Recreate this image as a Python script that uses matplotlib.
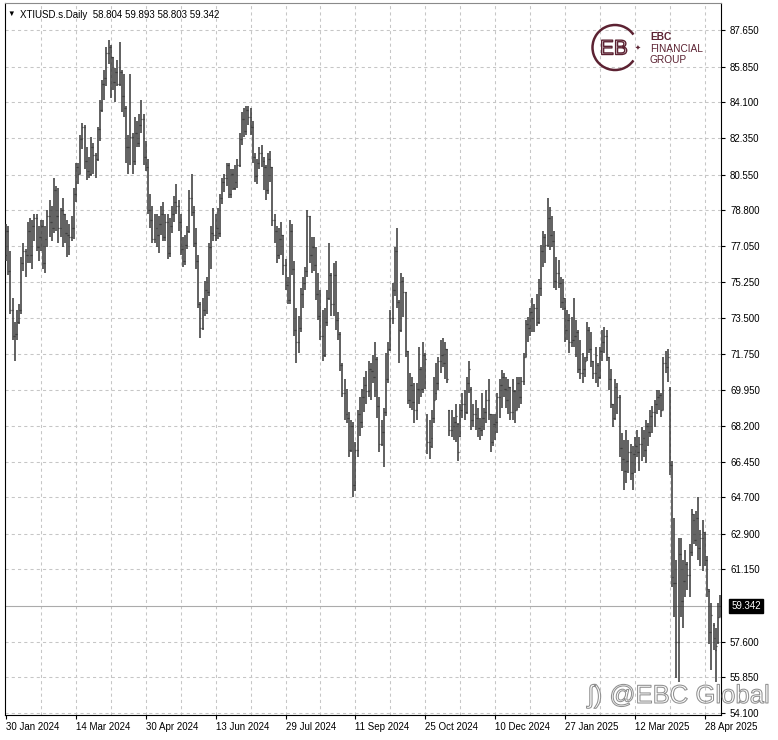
import numpy as np
import matplotlib
matplotlib.use("Agg")
from matplotlib import pyplot as plt
from matplotlib import patheffects
from matplotlib.patches import Arc

plt.rcParams['font.family'] = ['Liberation Sans', 'DejaVu Sans']

symbol = "XTIUSD.s.Daily"
bid = 59.342

# daily bars, 30 Jan 2024 .. 7 May 2025
opens = [
    76.6, 77.8, 75.8, 73.9, 72.6, 72.7, 73.3, 73.9, 76.2, 76.8,
    76.6, 77.8, 76.6, 78.0, 78.4, 77.0, 77.5, 78.0, 76.2, 77.4,
    78.5, 78.2, 77.9, 79.8, 78.5, 77.9, 78.8, 78.6, 77.7, 77.6,
    77.5, 77.9, 79.6, 80.9, 80.6, 82.3, 82.9, 81.2, 80.7, 80.6,
    81.9, 81.5, 81.3, 82.8, 83.7, 85.0, 85.3, 86.5, 86.8, 86.3,
    85.1, 85.6, 85.0, 85.6, 84.4, 83.8, 81.9, 81.9, 82.4, 81.2,
    82.6, 82.1, 83.0, 83.3, 81.4, 80.9, 78.8, 78.3, 77.4, 77.9,
    77.6, 78.1, 78.6, 77.5, 78.2, 76.7, 78.0, 78.6, 79.2, 79.0,
    78.2, 76.9, 76.3, 77.1, 77.8, 79.4, 78.7, 77.2, 76.3, 74.2,
    73.0, 73.9, 74.9, 74.8, 77.0, 77.7, 77.6, 77.9, 77.7, 79.4,
    80.2, 80.4, 81.0, 79.6, 80.6, 79.9, 80.2, 81.0, 82.3, 83.3,
    82.7, 83.7, 83.4, 82.9, 81.4, 80.5, 81.1, 81.6, 81.2, 80.9,
    79.8, 81.3, 80.9, 78.3, 77.8, 76.6, 77.4, 77.6, 76.1, 75.1,
    74.4, 77.8, 75.9, 72.9, 72.3, 73.0, 74.7, 75.2, 75.8, 78.5,
    76.6, 77.0, 76.1, 74.7, 73.6, 72.6, 71.7, 73.3, 74.5, 75.6,
    74.2, 75.6, 73.4, 72.7, 71.2, 69.8, 68.8, 68.6, 67.0, 68.2,
    65.3, 67.0, 68.8, 68.4, 69.6, 70.2, 69.9, 71.0, 70.9, 70.6,
    71.5, 69.2, 67.3, 67.9, 68.9, 70.5, 72.0, 73.5, 74.9, 76.8,
    74.3, 72.9, 75.3, 74.8, 71.9, 69.5, 70.2, 69.4, 69.0, 70.0,
    71.0, 70.0, 71.7, 68.7, 67.4, 67.6, 68.6, 69.8, 70.3, 71.4,
    71.7, 71.3, 72.0, 69.0, 68.0, 68.2, 68.4, 68.3, 67.7, 69.0,
    69.3, 68.9, 70.3, 70.0, 68.5, 68.8, 68.6, 68.1, 68.0, 68.6,
    68.9, 69.5, 68.8, 67.4, 68.3, 68.4, 69.6, 70.2, 70.6, 70.0,
    69.5, 70.1, 68.9, 69.9, 69.0, 70.3, 69.6, 70.4, 71.6, 73.2,
    73.0, 73.8, 73.5, 74.0, 73.3, 75.0, 76.8, 77.5, 77.1, 78.4,
    77.6, 77.3, 75.3, 75.7, 75.2, 74.3, 74.0, 72.9, 73.4, 72.3,
    72.4, 72.6, 72.8, 71.0, 70.8, 71.0, 71.6, 72.9, 72.0, 71.4,
    70.8, 71.2, 70.6, 71.9, 72.3, 72.6, 71.6, 70.5, 69.3, 68.6,
    70.1, 69.6, 67.1, 66.6, 66.0, 66.5, 66.9, 65.9, 66.8, 67.2,
    66.9, 67.3, 67.6, 67.0, 68.2, 67.9, 68.7, 68.9, 69.3, 69.6,
    69.7, 69.0, 71.3, 71.1, 70.0, 66.3, 60.5, 60.5, 57.6, 61.9,
    59.6, 60.6, 61.4, 60.9, 62.0, 63.6, 62.6, 63.7, 62.2, 62.7,
    62.9, 61.6, 60.1, 58.1, 58.4, 57.2, 57.6, 58.804]

highs = [
    78.1, 78.0, 76.8, 74.5, 73.3, 73.9, 74.2, 76.5, 77.2, 76.9,
    78.2, 78.4, 78.3, 78.6, 78.6, 78.0, 78.3, 78.3, 78.0, 78.8,
    79.3, 79.0, 80.4, 80.0, 79.9, 78.9, 79.4, 78.6, 78.3, 78.1,
    78.5, 79.9, 81.1, 81.1, 82.5, 83.1, 83.0, 81.9, 81.4, 82.4,
    82.1, 81.6, 82.9, 84.2, 85.2, 85.7, 86.8, 87.15, 86.9, 86.3,
    85.8, 86.2, 87.05, 85.7, 85.5, 83.9, 82.5, 85.5, 82.6, 83.4,
    83.2, 83.5, 84.2, 83.5, 82.2, 81.3, 79.6, 79.0, 78.6, 78.6,
    78.5, 79.0, 79.2, 78.6, 78.6, 78.4, 79.0, 79.5, 80.1, 79.3,
    78.6, 77.5, 77.6, 78.0, 79.8, 80.6, 79.0, 77.9, 76.6, 74.3,
    74.5, 75.3, 75.5, 77.2, 78.0, 78.9, 78.6, 78.9, 79.6, 80.4,
    80.6, 81.1, 81.1, 80.8, 80.8, 81.0, 81.3, 82.6, 83.6, 83.8,
    83.9, 83.9, 83.8, 83.2, 81.6, 81.3, 81.9, 82.0, 81.4, 81.0,
    81.6, 81.7, 80.9, 78.6, 78.0, 77.9, 78.2, 77.6, 76.4, 75.5,
    78.3, 78.1, 76.3, 74.0, 73.6, 75.0, 75.5, 76.0, 78.8, 78.5,
    77.5, 77.5, 77.0, 75.7, 74.9, 73.9, 74.0, 74.9, 77.2, 75.7,
    76.2, 76.3, 73.8, 72.8, 71.3, 70.5, 70.0, 68.9, 68.5, 68.4,
    67.4, 69.0, 69.6, 70.0, 70.6, 70.9, 71.4, 71.3, 71.7, 72.3,
    71.6, 69.6, 68.5, 69.1, 71.8, 72.3, 73.9, 75.2, 77.0, 77.9,
    74.4, 75.7, 75.5, 74.8, 71.9, 70.8, 70.6, 70.3, 70.3, 72.1,
    71.1, 72.3, 71.8, 68.8, 68.5, 69.0, 70.6, 71.3, 71.6, 72.4,
    72.5, 72.3, 72.0, 69.0, 69.0, 68.65, 69.3, 68.35, 69.3, 69.8,
    69.97, 70.6, 71.4, 70.1, 69.3, 69.5, 69.1, 68.6, 69.8, 69.1,
    69.97, 70.5, 68.8, 68.8, 68.8, 69.8, 70.5, 70.95, 70.8, 70.6,
    70.5, 70.1, 70.5, 69.97, 70.6, 70.6, 70.6, 71.8, 73.4, 73.55,
    74.0, 74.5, 74.2, 74.7, 75.4, 77.1, 77.8, 77.65, 79.4, 78.95,
    78.5, 77.8, 76.5, 76.35, 75.5, 75.4, 74.5, 73.9, 73.7, 73.55,
    74.5, 73.4, 72.9, 72.4, 71.8, 71.6, 73.3, 73.05, 72.8, 71.4,
    72.1, 71.3, 72.1, 72.9, 73.05, 72.9, 71.6, 71.0, 69.3, 70.5,
    70.3, 69.7, 67.85, 67.5, 68.0, 67.5, 67.3, 67.2, 67.65, 68.0,
    67.65, 68.15, 68.0, 68.5, 68.35, 69.0, 69.2, 69.5, 69.97, 69.97,
    69.8, 71.6, 71.9, 72.0, 70.1, 66.5, 63.7, 61.6, 62.7, 62.7,
    61.6, 62.1, 61.5, 62.4, 64.1, 63.9, 64.0, 64.7, 63.1, 63.6,
    63.0, 61.8, 60.2, 59.5, 58.5, 58.3, 59.5, 59.893]

lows = [
    76.3, 75.6, 73.7, 72.4, 71.4, 72.4, 73.2, 73.7, 75.8, 75.5,
    76.2, 76.2, 75.9, 77.3, 76.8, 76.3, 76.8, 75.9, 75.7, 77.0,
    77.5, 77.3, 77.7, 77.8, 77.2, 77.5, 77.0, 77.2, 76.5, 76.6,
    77.3, 77.4, 79.2, 80.1, 80.6, 81.8, 80.8, 80.3, 80.4, 80.5,
    80.6, 80.4, 81.2, 82.2, 83.6, 84.2, 84.9, 86.0, 84.3, 84.7,
    84.1, 84.9, 84.9, 83.6, 83.4, 81.1, 80.6, 81.0, 80.6, 81.0,
    81.9, 81.9, 82.6, 81.0, 80.7, 78.6, 77.9, 77.2, 77.2, 77.0,
    76.7, 77.6, 77.3, 77.3, 76.4, 76.5, 77.7, 78.2, 78.6, 77.8,
    76.6, 76.0, 76.1, 76.9, 77.7, 78.5, 77.0, 75.9, 74.0, 72.5,
    72.9, 73.6, 73.7, 74.6, 75.9, 77.3, 77.3, 77.4, 77.5, 79.1,
    79.7, 80.0, 79.4, 79.4, 79.8, 79.8, 79.9, 80.9, 82.0, 82.4,
    82.5, 83.0, 82.5, 81.1, 80.2, 80.1, 80.8, 80.9, 79.8, 79.3,
    79.6, 80.2, 78.0, 77.2, 76.2, 76.4, 76.6, 75.6, 74.9, 74.2,
    74.2, 75.6, 72.6, 71.3, 71.8, 72.8, 74.0, 74.9, 75.5, 76.2,
    75.7, 75.8, 74.4, 73.4, 72.4, 71.4, 71.6, 73.1, 74.4, 73.6,
    73.6, 72.9, 72.4, 70.9, 69.6, 68.5, 68.35, 66.7, 66.9, 64.7,
    65.0, 66.7, 67.7, 68.1, 68.9, 69.3, 69.6, 69.5, 70.3, 69.6,
    68.6, 66.9, 67.2, 66.2, 68.7, 70.3, 71.9, 73.2, 74.6, 74.0,
    71.3, 72.8, 73.55, 71.6, 69.3, 69.1, 69.0, 68.35, 68.5, 69.3,
    69.6, 69.8, 70.0, 66.8, 66.6, 67.1, 68.35, 69.5, 69.97, 70.8,
    71.1, 70.5, 70.3, 67.7, 67.65, 67.5, 67.4, 66.5, 67.65, 68.6,
    68.5, 68.8, 69.8, 68.0, 68.15, 68.0, 67.65, 67.5, 67.7, 68.0,
    68.35, 68.5, 66.9, 67.2, 67.5, 67.85, 68.6, 69.1, 69.6, 69.1,
    68.8, 68.5, 68.5, 68.35, 69.0, 69.1, 69.3, 70.2, 71.6, 72.3,
    72.6, 72.8, 72.8, 73.1, 73.2, 74.6, 76.0, 76.2, 77.0, 76.85,
    77.0, 75.0, 74.9, 75.0, 74.0, 73.9, 72.3, 72.4, 71.8, 72.1,
    72.1, 71.6, 70.8, 70.5, 70.3, 70.6, 71.4, 71.8, 71.1, 70.5,
    70.3, 70.1, 70.5, 71.4, 71.8, 71.4, 69.97, 69.1, 68.15, 68.5,
    68.8, 66.7, 66.0, 65.05, 65.4, 65.9, 65.55, 65.05, 65.9, 66.7,
    66.0, 66.5, 66.7, 66.4, 67.2, 67.65, 67.85, 68.15, 68.8, 68.98,
    68.65, 69.0, 70.8, 70.35, 65.8, 60.3, 58.8, 55.8, 55.6, 58.8,
    58.3, 59.8, 60.15, 59.8, 61.8, 62.4, 62.3, 61.6, 61.3, 61.1,
    61.3, 59.8, 57.5, 56.2, 57.2, 55.6, 57.5, 58.803]

closes = [
    77.8, 75.8, 73.9, 72.6, 72.7, 73.3, 73.9, 76.2, 76.8, 76.6,
    77.8, 76.6, 78.0, 78.4, 77.0, 77.5, 78.0, 76.2, 77.4, 78.5,
    78.2, 77.9, 79.8, 78.5, 77.9, 78.8, 78.6, 77.7, 77.6, 77.5,
    77.9, 79.6, 80.9, 80.6, 82.3, 82.9, 81.2, 80.7, 80.6, 81.9,
    81.5, 81.3, 82.8, 83.7, 85.0, 85.3, 86.5, 86.8, 86.3, 85.1,
    85.6, 85.0, 85.6, 84.4, 83.8, 81.9, 81.9, 82.4, 81.2, 82.6,
    82.1, 83.0, 83.3, 81.4, 80.9, 78.8, 78.3, 77.4, 77.9, 77.6,
    78.1, 78.6, 77.5, 78.2, 76.7, 78.0, 78.6, 79.2, 79.0, 78.2,
    76.9, 76.3, 77.1, 77.8, 79.4, 78.7, 77.2, 76.3, 74.2, 73.0,
    73.9, 74.9, 74.8, 77.0, 77.7, 77.6, 77.9, 77.7, 79.4, 80.2,
    80.4, 81.0, 79.6, 80.6, 79.9, 80.2, 81.0, 82.3, 83.3, 82.7,
    83.7, 83.4, 82.9, 81.4, 80.5, 81.1, 81.6, 81.2, 80.9, 79.8,
    81.3, 80.9, 78.3, 77.8, 76.6, 77.4, 77.6, 76.1, 75.1, 74.4,
    77.8, 75.9, 72.9, 72.3, 73.0, 74.7, 75.2, 75.8, 78.5, 76.6,
    77.0, 76.1, 74.7, 73.6, 72.6, 71.7, 73.3, 74.5, 75.6, 74.2,
    75.6, 73.4, 72.7, 71.2, 69.8, 68.8, 68.6, 67.0, 68.2, 65.3,
    67.0, 68.8, 68.4, 69.6, 70.2, 69.9, 71.0, 70.9, 70.6, 71.5,
    69.2, 67.3, 67.9, 68.9, 70.5, 72.0, 73.5, 74.9, 76.8, 74.3,
    72.9, 75.3, 74.8, 71.9, 69.5, 70.2, 69.4, 69.0, 70.0, 71.0,
    70.0, 71.7, 71.5, 67.4, 67.2, 68.6, 69.5, 70.3, 71.4, 71.7,
    71.3, 72.0, 70.5, 68.0, 68.2, 68.4, 68.7, 66.9, 69.0, 69.3,
    68.9, 70.3, 71.0, 68.5, 68.8, 68.6, 68.1, 68.0, 68.6, 68.9,
    69.5, 68.8, 67.4, 68.3, 68.4, 69.6, 70.2, 70.6, 70.0, 69.5,
    70.1, 68.9, 69.9, 69.0, 70.3, 69.6, 70.4, 71.6, 73.2, 73.0,
    73.8, 73.5, 74.0, 73.3, 75.0, 76.8, 77.5, 77.1, 78.4, 77.6,
    77.3, 75.3, 75.7, 75.2, 74.3, 74.5, 72.9, 73.4, 72.3, 72.4,
    72.6, 72.8, 71.0, 70.8, 71.0, 71.4, 72.9, 72.0, 71.4, 70.8,
    71.7, 70.6, 71.9, 72.3, 72.6, 71.6, 70.5, 69.3, 68.6, 70.1,
    69.6, 67.1, 66.6, 66.0, 66.5, 66.9, 65.9, 66.8, 67.2, 66.9,
    67.3, 67.6, 67.0, 68.2, 67.9, 68.7, 68.9, 69.3, 69.6, 69.7,
    69.0, 71.3, 71.1, 71.6, 66.3, 60.8, 60.5, 57.6, 61.9, 59.6,
    60.6, 61.4, 60.9, 62.0, 63.9, 62.6, 63.7, 62.2, 62.7, 63.0,
    61.6, 60.2, 58.1, 58.9, 57.8, 57.4, 58.8, 59.342]

date_labels = ["30 Jan 2024", "14 Mar 2024", "30 Apr 2024", "13 Jun 2024",
               "29 Jul 2024", "11 Sep 2024", "25 Oct 2024", "10 Dec 2024",
               "27 Jan 2025", "12 Mar 2025", "28 Apr 2025"]
price_ticks = [87.650, 85.850, 84.100, 82.350, 80.550, 78.800, 77.050,
               75.250, 73.500, 71.750, 69.950, 68.200, 66.450, 64.700,
               62.900, 61.150, 57.600, 55.850, 54.100]

W, H = 778, 740
fig = plt.figure(figsize=(W / 100, H / 100), dpi=100)
ax = fig.add_axes([5 / W, 1 - 715 / H, 716 / W, 712 / H])

x = np.arange(len(closes))
bar_col = '#353535'
ax.vlines(x, lows, highs, color=bar_col, lw=1.1, zorder=3)
ax.hlines(opens, x - 0.45, x, color=bar_col, lw=0.9, zorder=3)
ax.hlines(closes, x, x + 0.45, color=bar_col, lw=0.9, zorder=3)

# MT4 style grid
grid_kw = dict(color='#c6c6c6', lw=0.75, ls=(0, (3, 3)), zorder=0)
for p in price_ticks:
    ax.axhline(p, **grid_kw)
for b in range(16, len(closes), 16):
    ax.axvline(b, **grid_kw)
ax.axhline(bid, color='#ababab', lw=0.8, zorder=1)

ax.set_xlim(-0.46, 327.4)
ax.set_ylim(54.003, 88.976)

ax.set_xticks(np.arange(len(date_labels)) * 32, date_labels)
for t in ax.get_xticklabels():
    t.set_horizontalalignment('left')
ax.tick_params(axis='x', length=3, width=0.8, pad=2.2, labelsize=7)

ax.yaxis.tick_right()
ax.set_yticks(price_ticks, [f"{p:.3f}" for p in price_ticks])
ax.tick_params(axis='y', length=3, width=0.8, pad=3.5, labelsize=7)

for s in ['left', 'right', 'bottom']:
    ax.spines[s].set_linewidth(0.8)
    ax.spines[s].set_color('black')
ax.spines['top'].set_color('#8a8a8a')
ax.spines['top'].set_linewidth(0.8)

# current price label
ax.text(1.0145, bid, f"{bid:.3f}", transform=ax.get_yaxis_transform(),
        fontsize=7, color='white', va='center', ha='left', zorder=6,
        bbox=dict(boxstyle='square,pad=0.22', fc='black', ec='black'))

# header
fig.text(7 / W, 1 - 14 / H, "\u25bc", fontsize=5.5, va='center')
fig.text(20 / W, 1 - 14.5 / H,
         f"{symbol}  {opens[-1]:.3f} {highs[-1]:.3f} {lows[-1]:.3f} {closes[-1]:.3f}",
         fontsize=7, va='center')

# logo + watermark in pixel coordinates
ov = fig.add_axes([0, 0, 1, 1], zorder=5)
ov.set_xlim(0, W)
ov.set_ylim(H, 0)
ov.axis('off')
ov.patch.set_alpha(0)

maroon = '#5c2232'
ov.add_patch(Arc((615, 47.5), 45, 45, theta1=35, theta2=325, color=maroon, lw=1.8))
ov.text(638, 48, "\u2726", fontsize=5, color=maroon, ha='center', va='center',
        family=['DejaVu Sans'])
outline = [patheffects.Stroke(linewidth=1.0, foreground=maroon)]
ov.text(614, 49, "EB", fontsize=15, color='white', ha='center', va='center',
        path_effects=outline)
ov.text(650, 37.5, "EBC", fontsize=7.3, color=maroon, fontweight='bold', va='center')
ov.text(650, 49, "FINANCIAL", fontsize=7.3, color=maroon, va='center')
ov.text(650, 60, "GROUP", fontsize=7.3, color=maroon, va='center')

wm = [patheffects.Stroke(linewidth=0.75, foreground='#8f8f8f')]
ov.text(588, 703, "\u0283) @EBC Global", fontsize=18.5, color=(1, 1, 1, 0),
        va='baseline', path_effects=wm)

fig.savefig("out.png", dpi=100)
